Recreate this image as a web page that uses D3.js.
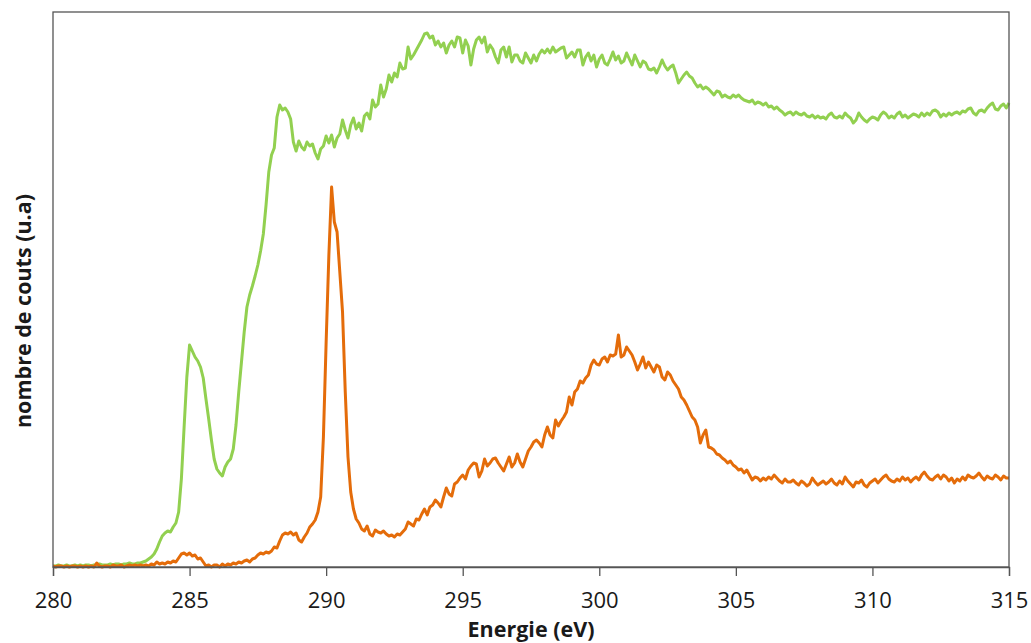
<!DOCTYPE html>
<html><head><meta charset="utf-8">
<script src="https://cdn.jsdelivr.net/npm/d3@7"></script>
<style>body{margin:0;background:#fff}svg{display:block}</style>
</head><body><svg id="c" width="1031" height="643"></svg>
<script>
const xTicks = [280, 285, 290, 295, 300, 305, 310, 315];
const xTitle = "Energie (eV)";
const yTitle = "nombre de couts (u.a)";
const energyStart = 280, energyStep = 0.1;
const greenSeries = [
1,1,2,1,1,2,1,1,2,1,
2,1,2,2,1,2,2,3,2,2,
2,3,2,3,3,2,3,3,4,3,
3,4,4,5,6,8,10,13,18,25,
31,34,36,35,40,44,55,88,140,190,
222,216,210,206,200,189,168,148,127,108,
98,94,91,100,105,108,118,142,175,205,
235,260,272,281,291,302,316,333,362,395,
412,419,450,462,457,459,455,448,425,416,
426,420,417,425,421,423,414,408,418,421,
431,424,432,420,429,433,447,437,429,442,
449,438,444,436,451,454,448,467,460,463,
482,470,478,492,485,494,490,504,498,499,
520,508,512,517,522,527,533,534,529,531,
522,526,520,524,514,522,526,520,530,529,
514,527,521,502,518,527,530,524,530,515,
522,518,510,504,517,520,510,520,505,512,
512,506,504,514,509,504,512,506,513,517,
514,518,514,520,515,517,519,520,509,512,
515,510,517,517,502,510,514,506,512,500,
508,512,504,502,508,515,507,511,504,506,
514,508,502,512,506,500,506,504,498,497,
499,494,500,507,501,497,500,502,494,484,
488,492,495,491,489,484,480,482,478,480,
478,475,472,476,475,470,472,470,469,472,
470,472,469,467,466,465,467,463,465,464,
462,464,460,461,458,460,457,455,452,454,
455,452,455,453,452,454,451,450,452,449,
451,449,450,448,452,454,450,449,451,449,
454,451,449,444,447,454,450,447,445,448,
450,449,447,452,455,453,449,451,449,453,
455,450,452,449,451,453,452,450,454,451,
454,452,456,457,455,450,453,451,454,452,
454,455,453,456,455,458,459,454,452,456,
457,455,459,462,464,458,457,461,463,459,
464];
const orangeSeries = [
1,0,1,1,0,1,0,1,1,0,
1,0,1,0,1,0,4,1,0,1,
1,0,2,1,1,2,0,1,2,1,
2,1,2,1,2,1,3,2,5,3,
4,3,5,4,6,5,9,13,14,12,
14,11,12,8,9,5,1,2,0,2,
2,0,3,1,3,2,4,3,5,4,
6,7,5,8,9,12,14,13,15,14,
16,20,19,26,32,34,33,35,32,34,
27,25,30,34,40,43,47,55,70,130,
225,312,380,345,335,295,255,175,110,75,
58,48,44,38,36,41,33,31,37,35,
34,36,33,31,32,30,33,32,35,38,
45,43,41,48,47,53,58,52,60,62,
67,64,60,70,79,73,71,83,85,89,
92,88,97,101,104,103,90,96,108,101,
104,108,109,104,100,96,103,110,100,104,
113,105,100,108,116,120,125,127,124,120,
132,140,132,129,147,141,146,150,155,170,
162,175,178,186,184,189,192,202,207,203,
202,208,210,205,212,211,213,232,210,212,
220,216,212,205,197,203,210,199,205,200,
195,202,200,190,187,195,192,186,182,178,
170,167,162,156,150,147,140,124,132,137,
120,119,117,113,112,109,107,104,106,102,
100,97,98,94,97,92,87,90,89,86,
89,87,90,88,92,89,86,84,88,85,
85,87,84,82,86,84,81,83,89,85,
82,84,86,83,85,88,84,82,86,83,
90,86,83,80,85,84,87,82,80,84,
86,88,84,87,90,92,88,86,85,88,
86,90,87,89,85,88,90,87,92,95,
91,88,87,90,92,88,92,90,86,89,
84,88,86,90,87,92,90,89,91,94,
90,87,91,89,88,92,90,87,91,89,
89];

const svg = d3.select("#c");
const L = 53, R = 1009, T = 12, B = 567;
const x = d3.scaleLinear().domain([280, 315]).range([L, R]);
const y = d3.scaleLinear().domain([0, 555]).range([B, T]);
const energies = greenSeries.map((_, i) => +(energyStart + i * energyStep).toFixed(1));

const line = d3.line().x((d, i) => x(energies[i])).y(d => y(d));

svg.append("path").datum(greenSeries).attr("d", line)
  .attr("fill", "none").attr("stroke", "#92d050").attr("stroke-width", 3).attr("stroke-linejoin", "round");
svg.append("path").datum(orangeSeries).attr("d", line)
  .attr("fill", "none").attr("stroke", "#e46c0a").attr("stroke-width", 3).attr("stroke-linejoin", "round");

// frame
svg.append("rect").attr("x", L).attr("y", T).attr("width", R - L).attr("height", B - T)
  .attr("fill", "none").attr("stroke", "#555").attr("stroke-width", 1.3);

const xAxis = svg.append("g").attr("transform", `translate(0,${B})`)
  .call(d3.axisBottom(x).tickValues(xTicks).tickSize(9).tickPadding(16));
xAxis.select(".domain").attr("stroke", "#555").attr("stroke-width", 1.3);
xAxis.selectAll(".tick line").attr("stroke", "#555").attr("stroke-width", 1.3);
xAxis.selectAll(".tick text").attr("font-family", "'Open Sans', sans-serif")
  .attr("font-size", 22).attr("fill", "#1a1a1a");

svg.append("text").attr("x", 531).attr("y", 637)
  .attr("text-anchor", "middle").attr("font-family", "'Open Sans', sans-serif")
  .attr("font-weight", "bold").attr("font-size", 21.5).attr("fill", "#1a1a1a").text(xTitle);

svg.append("text").attr("transform", "translate(31,311) rotate(-90)")
  .attr("text-anchor", "middle").attr("font-family", "'Open Sans', sans-serif")
  .attr("font-weight", "bold").attr("font-size", 21.5).attr("fill", "#1a1a1a").text(yTitle);
</script></body></html>
